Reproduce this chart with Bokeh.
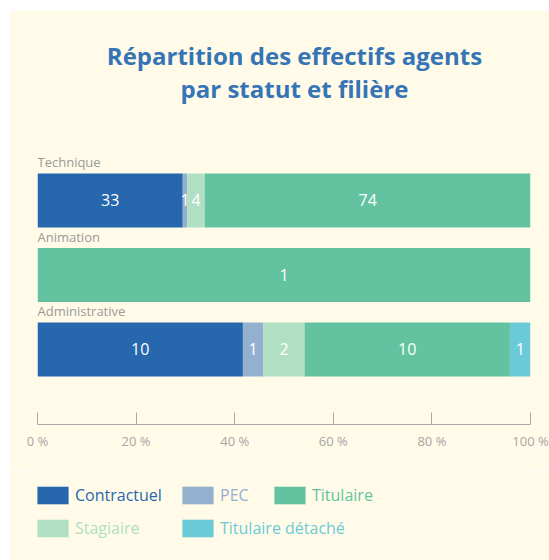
from bokeh.plotting import figure
from bokeh.layouts import column
from bokeh.models import (Range1d, FixedTicker, PrintfTickFormatter, Label,
                          Legend, LegendItem, ColumnDataSource)
from bokeh.core.properties import value
from bokeh.embed import file_html
from bokeh.resources import INLINE

# ---- data ----
categories = ["Technique", "Animation", "Administrative"]
series = ["Contractuel", "PEC", "Stagiaire", "Titulaire", "Titulaire détaché"]
contractuel = [33, 0, 10]
pec = [1, 0, 1]
stagiaire = [4, 0, 2]
titulaire = [74, 1, 10]
titulaire_detache = [0, 0, 1]
colors = {
    "Contractuel": "#2767ae",
    "PEC": "#93b0ce",
    "Stagiaire": "#b0dfc4",
    "Titulaire": "#63c3a0",
    "Titulaire détaché": "#6bcad8",
}
x_ticks = [0, 20, 40, 60, 80, 100]
legend_rows = [["Contractuel", "PEC", "Titulaire"], ["Stagiaire", "Titulaire détaché"]]
title_lines = ["Répartition des effectifs agents", "par statut et filière"]

values = {
    "Contractuel": contractuel,
    "PEC": pec,
    "Stagiaire": stagiaire,
    "Titulaire": titulaire,
    "Titulaire détaché": titulaire_detache,
}

BG = "#fffbe8"
FONT = "Open Sans"

# ---------------- main chart ----------------
p = figure(width=540, height=460, output_backend="svg", toolbar_location=None,
           x_range=Range1d(0, 100), y_range=Range1d(3.007, -2.550),
           min_border_left=28, min_border_right=19,
           min_border_top=0, min_border_bottom=46)
p.background_fill_color = BG
p.border_fill_color = BG
p.outline_line_color = None
p.xgrid.visible = False
p.ygrid.visible = False
p.yaxis.visible = False

totals = [sum(values[s][i] for s in series) for i in range(len(categories))]
for i, cat in enumerate(categories):
    left = 0.0
    for s in series:
        v = values[s][i]
        if v == 0:
            continue
        w = v / totals[i] * 100
        src = ColumnDataSource(dict(y=[i], left=[left], right=[left + w],
                                    xc=[left + w / 2], t=[str(v)]))
        p.hbar(y="y", left="left", right="right", height=0.725, source=src,
               fill_color=colors[s], line_color=None)
        p.text(x="xc", y="y", text="t", source=src, text_color="white",
               text_font=value(FONT), text_font_size="16px",
               text_align="center", text_baseline="middle")
        left += w

# category labels
csrc = ColumnDataSource(dict(x=[0] * len(categories), y=list(range(len(categories))),
                             t=categories))
p.text(x="x", y="y", text="t", source=csrc, y_offset=-38,
       text_color="#999999", text_font=value(FONT), text_font_size="13px",
       text_align="left", text_baseline="middle")

# axis
ax = p.xaxis[0]
ax.ticker = FixedTicker(ticks=x_ticks)
ax.formatter = PrintfTickFormatter(format="%d %%")
ax.axis_line_color = "#aaaaaa"
ax.major_tick_line_color = "#aaaaaa"
ax.major_tick_in = 12
ax.major_tick_out = 0
ax.minor_tick_line_color = None
ax.major_label_text_color = "#a6a6a6"
ax.major_label_text_font = FONT
ax.major_label_text_font_size = "13px"
ax.major_label_standoff = 7

# title
for txt, yy in zip(title_lines, [369, 336]):
    p.add_layout(Label(x=257, y=yy, x_units="screen", y_units="screen", text=txt,
                       text_align="center", text_baseline="middle",
                       text_color="#3574b5", text_font=FONT,
                       text_font_size="24px", text_font_style="bold"))

# ---------------- legend strip ----------------
q = figure(width=540, height=90, output_backend="svg", toolbar_location=None,
           x_range=Range1d(0, 1), y_range=Range1d(0, 1),
           min_border_left=0, min_border_right=0,
           min_border_top=0, min_border_bottom=0)
q.background_fill_color = BG
q.border_fill_color = BG
q.outline_line_color = None
q.axis.visible = False
q.grid.visible = False

legend_x = {"Contractuel": -4, "PEC": 141, "Titulaire": 233,
            "Stagiaire": -4, "Titulaire détaché": 141}
row_y = [54, 21]
for ri, row in enumerate(legend_rows):
    for s in row:
        # legend-only renderer, kept outside the visible range
        r = q.hbar(y=[5], left=[5], right=[6], height=1,
                   fill_color=colors[s], line_color=None)
        lg = Legend(items=[LegendItem(label=s, renderers=[r])],
                    location=(legend_x[s], row_y[ri]),
                    orientation="horizontal",
                    glyph_width=39, glyph_height=22, padding=0, margin=0,
                    spacing=0, label_standoff=3, label_height=22,
                    label_text_color=colors[s], label_text_font=FONT,
                    label_text_font_size="16px",
                    background_fill_alpha=0, border_line_color=None)
        q.add_layout(lg, "center")

layout = column(p, q, spacing=0, margin=(10, 0, 0, 9))
open("out.html", "w").write(file_html(layout, INLINE))
